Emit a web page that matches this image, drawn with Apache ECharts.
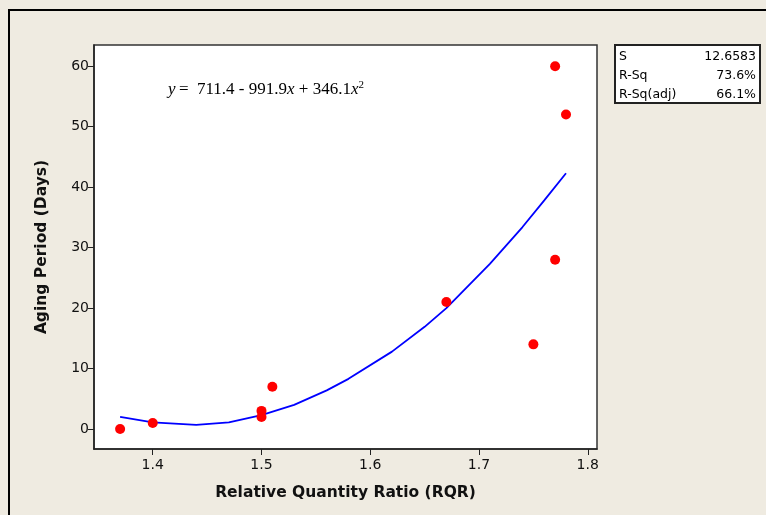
<!DOCTYPE html>
<html>
<head>
<meta charset="utf-8">
<script src="https://cdn.jsdelivr.net/npm/echarts@6/dist/echarts.min.js"></script>
<style>
html,body{margin:0;padding:0;background:#EFEBE1;}
#chart{width:766px;height:515px;}
</style>
</head>
<body>
<div id="chart"></div>
<script>
// Observed data (Relative Quantity Ratio vs Aging Period)
const rqr = [1.37, 1.40, 1.50, 1.50, 1.51, 1.67, 1.75, 1.77, 1.77, 1.78];
const agingDays = [0, 1, 2, 3, 7, 21, 14, 28, 60, 52];

// Fitted curve
const fitX = [1.37, 1.40, 1.44, 1.47, 1.50, 1.53, 1.56, 1.58, 1.62, 1.65, 1.67, 1.71, 1.74, 1.76, 1.78];
const fitY = [2.0, 1.1, 0.7, 1.1, 2.3, 4.0, 6.4, 8.3, 12.8, 16.9, 20.0, 27.3, 33.4, 37.8, 42.3];

const xTicks = [1.4, 1.5, 1.6, 1.7, 1.8];
const yTicks = [0, 10, 20, 30, 40, 50, 60];

const statLabels = ['S', 'R-Sq', 'R-Sq(adj)'];
const statValues = ['12.6583', '73.6%', '66.1%'];

const chart = echarts.init(document.getElementById('chart'), null, {renderer: 'canvas'});

const font = 'DejaVu Sans';
const graphics = [
  {type: 'rect', shape: {x: 9, y: 10, width: 800, height: 600}, style: {fill: 'none', stroke: '#000', lineWidth: 2}, z: 0},
  {type: 'rect', shape: {x: 615, y: 45, width: 145, height: 58}, style: {fill: '#fff', stroke: '#222', lineWidth: 2}, z: 5},
  {type: 'text', x: 168, y: 80, z: 10, style: {
    text: '{i|y} {n|=  711.4 - 991.9}{i|x}{n| + 346.1}{i|x}{s|2}',
    rich: {
      i: {fontFamily: 'Liberation Serif', fontStyle: 'italic', fontSize: 17, fill: '#000'},
      n: {fontFamily: 'Liberation Serif', fontSize: 17, fill: '#000'},
      s: {fontFamily: 'Liberation Serif', fontSize: 11, fill: '#000', verticalAlign: 'top', padding: [0,0,9,0]}
    }
  }}
];
statLabels.forEach((lab, i) => {
  graphics.push({type: 'text', x: 619, y: 50 + i * 19, z: 10, style: {text: lab, font: '12.5px ' + font, fill: '#000'}});
  graphics.push({type: 'text', x: 756, y: 50 + i * 19, z: 10, style: {text: statValues[i], font: '12.5px ' + font, fill: '#000', textAlign: 'right'}});
});

const option = {
  backgroundColor: '#EFEBE1',
  animation: false,
  grid: {left: 94, top: 45, width: 503, height: 404, show: true, backgroundColor: '#fff', borderColor: '#333', borderWidth: 1.5},
  xAxis: {
    type: 'value', min: 1.346, max: 1.8085,
    name: 'Relative Quantity Ratio (RQR)', nameLocation: 'middle', nameGap: 36,
    nameTextStyle: {fontFamily: font, fontWeight: 'bold', fontSize: 15.5, color: '#111'},
    axisLine: {show: true, onZero: false, lineStyle: {color: '#222', width: 1.5}},
    axisTick: {show: true, inside: false, length: 6, lineStyle: {color: '#222'}, customValues: xTicks},
    axisLabel: {fontFamily: font, fontSize: 14, color: '#111', margin: 9, customValues: xTicks, formatter: v => v.toFixed(1)},
    splitLine: {show: false}
  },
  yAxis: {
    type: 'value', min: -3.3, max: 63.5,
    name: 'Aging Period (Days)', nameLocation: 'middle', nameGap: 44,
    nameTextStyle: {fontFamily: font, fontWeight: 'bold', fontSize: 15.5, color: '#111'},
    axisLine: {show: true, onZero: false, lineStyle: {color: '#222', width: 1.5}},
    axisTick: {show: true, inside: false, length: 6, lineStyle: {color: '#222'}, customValues: yTicks},
    axisLabel: {fontFamily: font, fontSize: 14, color: '#111', margin: 5, customValues: yTicks},
    splitLine: {show: false}
  },
  series: [
    {
      type: 'line', data: fitX.map((x, i) => [x, fitY[i]]),
      showSymbol: false, symbol: 'none', smooth: false,
      lineStyle: {color: '#0000FF', width: 1.8}, z: 2
    },
    {
      type: 'scatter', data: rqr.map((x, i) => [x, agingDays[i]]),
      symbol: 'circle', symbolSize: 10,
      itemStyle: {color: '#FF0000', opacity: 1}, z: 3
    }
  ],
  graphic: graphics
};
chart.setOption(option);
</script>
</body>
</html>
